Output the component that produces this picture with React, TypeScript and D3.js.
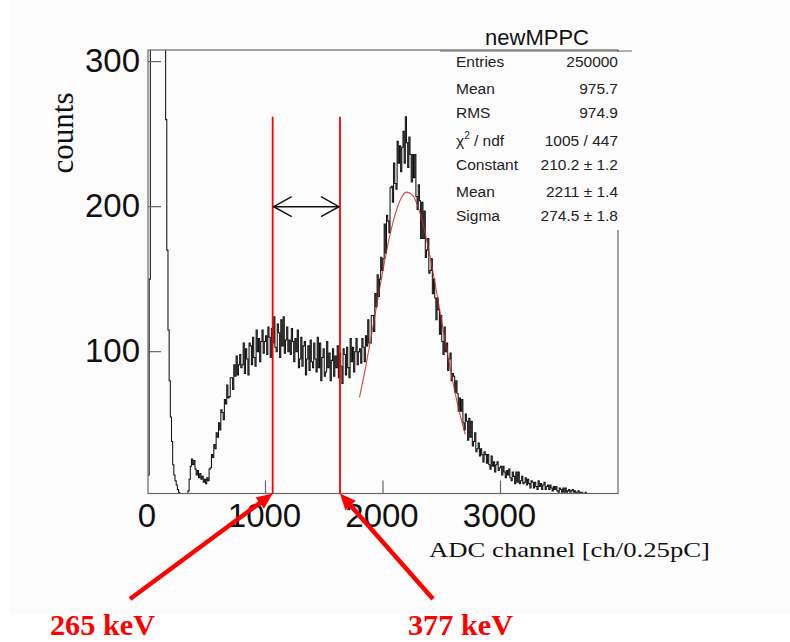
import React from "react";
import * as d3 from "d3";

// ADC spectrum, 10-channel bins starting at channel 0
const BIN_WIDTH = 10;
const counts = [
  // 0 - 190
  15, 150, 400, 510, 540, 550, 540, 520, 500, 480, 460, 440, 410, 380, 350, 260, 170, 115, 80, 55,
  // 200 - 390
  38, 22, 15, 11, 8, 5, 3, 1, 0, 0, 1, 0, 0, 1, 4, 12, 21, 26, 22, 25,
  // 400 - 590
  19, 15, 18, 13, 16, 12, 14, 10, 12, 9, 13, 11, 19, 20, 29, 27, 36, 33, 44, 41,
  // 600 - 790
  51, 46, 60, 58, 53, 67, 64, 77, 68, 69, 82, 82, 74, 91, 83, 97, 84, 91, 98, 89,
  // 800 - 990
  91, 106, 85, 102, 95, 84, 106, 104, 91, 110, 96, 90, 115, 100, 109, 93, 107, 115, 99, 107,
  // 1000 - 1190
  111, 98, 117, 110, 96, 116, 106, 124, 103, 100, 119, 113, 96, 122, 104, 124, 99, 108, 117, 100,
  // 1200 - 1390
  108, 98, 116, 107, 93, 109, 100, 115, 89, 95, 110, 90, 104, 107, 84, 95, 104, 87, 108, 93,
  // 1400 - 1590
  89, 106, 95, 86, 110, 89, 106, 80, 96, 102, 83, 86, 107, 89, 99, 80, 94, 102, 83, 97,
  // 1600 - 1790
  89, 104, 82, 99, 90, 78, 102, 98, 84, 103, 89, 82, 109, 93, 103, 86, 100, 109, 91, 100,
  // 1800 - 1990
  102, 92, 109, 103, 93, 111, 104, 122, 106, 106, 125, 125, 114, 140, 131, 153, 138, 150, 165, 156,
  // 2000 - 2190
  164, 188, 168, 194, 190, 182, 213, 214, 203, 230, 216, 212, 245, 230, 242, 224, 241, 252, 230, 262,
  // 2200 - 2390
  244, 227, 248, 236, 217, 236, 220, 236, 207, 198, 215, 204, 178, 203, 178, 197, 165, 170, 178, 154,
  // 2400 - 2590
  156, 164, 140, 150, 137, 122, 137, 129, 112, 125, 107, 98, 117, 100, 106, 87, 95, 99, 80, 85,
  // 2600 - 2790
  83, 72, 80, 71, 59, 68, 59, 67, 51, 46, 57, 52, 39, 54, 41, 52, 35, 38, 44, 31,
  // 2800 - 2990
  33, 37, 28, 33, 29, 24, 31, 29, 23, 29, 22, 19, 28, 21, 24, 17, 22, 24, 18, 20,
  // 3000 - 3190
  21, 15, 21, 17, 13, 18, 15, 19, 13, 11, 17, 14, 9, 17, 10, 17, 9, 11, 14, 9,
  // 3200 - 3390
  10, 13, 8, 12, 9, 6, 11, 10, 6, 10, 7, 5, 11, 7, 9, 5, 8, 10, 5, 7,
  // 3400 - 3590
  8, 5, 8, 6, 4, 7, 5, 7, 4, 3, 6, 5, 3, 6, 3, 6, 3, 4, 5, 3,
  // 3600 - 3790
  4, 5, 3, 4, 2, 3, 4, 2, 3, 3, 1, 2, 3, 1, 2, 2, 0, 1, 2, 1,
  // 3800 - 3990
  1, 0, 1, 1, 0, 0, 1, 0, 0, 0, 0, 0, 0, 0, 0, 0, 0, 0, 0, 0,
];

// red gaussian fit curve
const fitChannels = [
  1800, 1850, 1900, 1950, 2000, 2050, 2100, 2150, 2200, 2250,
  2300, 2350, 2400, 2450, 2500, 2550, 2600, 2650, 2700,
];
const fitCounts = [
  68.5, 88.5, 110.6, 133.7, 156.4, 177.0, 193.6, 205.1, 210.0, 208.1,
  199.4, 184.9, 165.8, 143.9, 120.8, 98.1, 77.0, 58.5, 43.0,
];

const xTicks = [1000, 2000, 3000];
const xTickLabels = [0, 1000, 2000, 3000];
const yTicks = [100, 200, 300];

// cut lines and their energies
const cutChannels = [1061, 1634];
const cutTop = 262;
const arrowCount = 200;
const energyLabels = ["265 keV", "377 keV"];

const statLabels = ["Entries", "Mean", "RMS", "chi", "Constant", "Mean", "Sigma"];
const statValues = ["250000", "975.7", "974.9", "1005 / 447", "210.2 ± 1.2", "2211 ± 1.4", "274.5 ± 1.8"];

const W = 790;
const H = 642;
const left = 148;
const right = 618;
const top = 50;
const bottom = 493.5;
const bg = "#fcfcfc";

const x = d3.scaleLinear().domain([0, 4000]).range([left, right]);
const y = d3.scaleLinear().domain([2.2, 308]).range([bottom, top]);

const sans = "'Liberation Sans', Arial, Helvetica, sans-serif";
const serif = "'Liberation Serif', 'Times New Roman', serif";

const bigArrow = (tx: number, ty: number, px: number, py: number) => {
  const dx = px - tx;
  const dy = py - ty;
  const len = Math.hypot(dx, dy);
  const ux = dx / len;
  const uy = dy / len;
  const bx = px - ux * 16;
  const by = py - uy * 16;
  const nx = -uy * 7;
  const ny = ux * 7;
  return (
    <g>
      <line x1={tx} y1={ty} x2={bx + ux * 2} y2={by + uy * 2} stroke="#ff0000" strokeWidth={4.5} />
      <polygon points={`${px},${py} ${bx + nx},${by + ny} ${bx - nx},${by - ny}`} fill="#ff0000" />
    </g>
  );
};

export default function App() {
  const histPts: [number, number][] = counts.map((c, i) => [i * BIN_WIDTH, c]);
  histPts.push([counts.length * BIN_WIDTH, counts[counts.length - 1]]);
  const histPath = d3
    .line<[number, number]>()
    .x((d) => x(d[0]))
    .y((d) => y(d[1]))
    .curve(d3.curveStepAfter)(histPts);

  const fitPath = d3
    .line<number>()
    .x((d, i) => x(fitChannels[i]))
    .y((d) => y(d))
    .curve(d3.curveMonotoneX)(fitCounts);

  const statRowY = [67, 94, 118, 146, 170, 196.5, 221];
  const xa = x(cutChannels[0]);
  const xb = x(cutChannels[1]);
  const ya = y(arrowCount);
  const tails = [
    [130, 599],
    [433, 599],
  ];
  const labelX = [50, 408];

  return (
    <svg
      width={W}
      height={H}
      style={{ position: "absolute", left: 0, top: 0, background: "#fff" }}
    >
      <rect x={10} y={0} width={780} height={614} fill={bg} />
      <defs>
        <clipPath id="frame">
          <rect x={left} y={top} width={right - left} height={bottom - top} />
        </clipPath>
      </defs>

      {/* histogram */}
      <path d={histPath || ""} fill="none" stroke="#111" strokeWidth={1.05} clipPath="url(#frame)" />
      <path d={fitPath || ""} fill="none" stroke="#c82828" strokeWidth={1.1} opacity={0.85} />

      {/* frame */}
      <rect x={left} y={top} width={right - left} height={bottom - top} fill="none" stroke="#666" strokeWidth={1.2} />
      {yTicks.map((t) => (
        <g key={"y" + t}>
          <line x1={left} x2={left + 13} y1={y(t)} y2={y(t)} stroke="#666" strokeWidth={1.2} />
          <text x={140} y={y(t) + 10} textAnchor="end" fontFamily={sans} fontSize={33} fill="#111">
            {t}
          </text>
        </g>
      ))}
      {xTicks.map((t) => (
        <line key={"xt" + t} x1={x(t)} x2={x(t)} y1={bottom} y2={bottom - 13} stroke="#666" strokeWidth={1.2} />
      ))}
      {xTickLabels.map((t) => (
        <text key={"xl" + t} x={x(t) - 1} y={527} textAnchor="middle" fontFamily={sans} fontSize={33} fill="#111">
          {t}
        </text>
      ))}

      {/* axis titles */}
      <text
        transform="translate(73,133) rotate(-90)"
        textAnchor="middle"
        fontFamily={serif}
        fontSize={31}
        fill="#111"
      >
        counts
      </text>
      <text x={429} y={557} fontFamily={serif} fontSize={22} textLength={281} lengthAdjust="spacingAndGlyphs" fill="#111">
        ADC channel [ch/0.25pC]
      </text>

      {/* stats box */}
      <rect x={440} y={52} width={192} height={178} fill={bg} />
      <line x1={440} x2={632} y1={51} y2={51} stroke="#666" strokeWidth={1.2} />
      <text x={537} y={45} textAnchor="middle" fontFamily={sans} fontSize={22} fill="#111">
        newMPPC
      </text>
      {statLabels.map((s, i) => (
        <g key={"s" + i} fontFamily={sans} fontSize={15.5} fill="#222">
          {s === "chi" ? (
            <text x={456} y={statRowY[i]}>
              χ
              <tspan fontSize={10} dy={-7}>2</tspan>
              <tspan dy={7}> / ndf</tspan>
            </text>
          ) : (
            <text x={456} y={statRowY[i]}>{s}</text>
          )}
          <text x={618} y={statRowY[i]} textAnchor="end">
            {statValues[i]}
          </text>
        </g>
      ))}

      {/* cut lines */}
      {cutChannels.map((c) => (
        <line key={"c" + c} x1={x(c)} x2={x(c)} y1={y(cutTop)} y2={bottom} stroke="#ff0000" strokeWidth={1.8} />
      ))}
      <g fill="none" stroke="#111" strokeWidth={1.5}>
        <line x1={xa + 1} x2={xb - 1} y1={ya} y2={ya} />
        <polyline points={`${xa + 19},${ya - 10} ${xa + 1},${ya} ${xa + 19},${ya + 10}`} />
        <polyline points={`${xb - 19},${ya - 10} ${xb - 1},${ya} ${xb - 19},${ya + 10}`} />
      </g>

      {/* energy arrows */}
      {cutChannels.map((c, i) => (
        <g key={"a" + c}>{bigArrow(tails[i][0], tails[i][1], x(c), bottom)}</g>
      ))}
      {energyLabels.map((l, i) => (
        <text
          key={l}
          x={labelX[i]}
          y={635}
          fontFamily={serif}
          fontWeight="bold"
          fontSize={30}
          textLength={105}
          lengthAdjust="spacingAndGlyphs"
          fill="#ff0000"
        >
          {l}
        </text>
      ))}
    </svg>
  );
}
